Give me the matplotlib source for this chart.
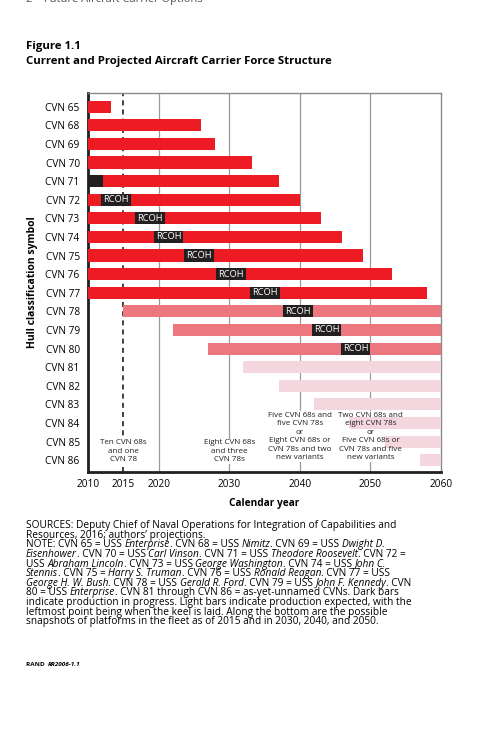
import numpy as np
import matplotlib
matplotlib.use("Agg")
import matplotlib.pyplot as plt

plt.rcParams['font.family'] = ['Open Sans', 'DejaVu Sans']

# Dati
hulls = ["CVN 65", "CVN 68", "CVN 69", "CVN 70", "CVN 71", "CVN 72", "CVN 73",
         "CVN 74", "CVN 75", "CVN 76", "CVN 77", "CVN 78", "CVN 79", "CVN 80",
         "CVN 81", "CVN 82", "CVN 83", "CVN 84", "CVN 85", "CVN 86"]
bar_start = [2010, 2010, 2010, 2010, 2010, 2010, 2010, 2010, 2010, 2010, 2010,
             2015, 2022, 2027, 2032, 2037, 2042, 2047, 2052, 2057]
bar_end = [2013.3, 2026, 2028, 2033.2, 2037, 2040, 2043, 2046, 2049, 2053, 2058,
           2060, 2060, 2060, 2060, 2060, 2060, 2060, 2060, 2060]
# 0 = in servizio, 1 = in produzione (medio), 2 = previsto (chiaro)
bar_kind = [0]*11 + [1]*3 + [2]*6

# RCOH (blocchi scuri con testo)
rcoh_hull = ["CVN 72", "CVN 73", "CVN 74", "CVN 75", "CVN 76", "CVN 77", "CVN 78", "CVN 79", "CVN 80"]
rcoh_start = [2011.9, 2016.7, 2019.3, 2023.6, 2028.2, 2033.0, 2037.6, 2041.7, 2045.8]
rcoh_len = 4.2
# CVN 71: barra scura senza testo
dark_hull = "CVN 71"
dark_start, dark_end = 2010, 2012.1

xticks = [2010, 2015, 2020, 2030, 2040, 2050, 2060]
grid_years = [2020, 2030, 2040, 2050]

snap_years = [2015, 2030, 2040, 2050]
snap_text = ["Ten CVN 68s\nand one\nCVN 78",
             "Eight CVN 68s\nand three\nCVN 78s",
             "Five CVN 68s and\nfive CVN 78s\nor\nEight CVN 68s or\nCVN 78s and two\nnew variants",
             "Two CVN 68s and\neight CVN 78s\nor\nFive CVN 68s or\nCVN 78s and five\nnew variants"]

note_lines = [
    "SOURCES: Deputy Chief of Naval Operations for Integration of Capabilities and",
    "Resources, 2016; authors\u2019 projections.",
    "NOTE: CVN 65 = USS _Enterprise_. CVN 68 = USS _Nimitz_. CVN 69 = USS _Dwight D._",
    "_Eisenhower_. CVN 70 = USS _Carl Vinson_. CVN 71 = USS _Theodore Roosevelt_. CVN 72 =",
    "USS _Abraham Lincoln_. CVN 73 = USS _George Washington_. CVN 74 = USS _John C._",
    "_Stennis_. CVN 75 = _Harry S. Truman_. CVN 76 = USS _Ronald Reagan_. CVN 77 = USS",
    "_George H. W. Bush_. CVN 78 = USS _Gerald R. Ford_. CVN 79 = USS _John F. Kennedy_. CVN",
    "80 = USS _Enterprise_. CVN 81 through CVN 86 = as-yet-unnamed CVNs. Dark bars",
    "indicate production in progress. Light bars indicate production expected, with the",
    "leftmost point being when the keel is laid. Along the bottom are the possible",
    "snapshots of platforms in the fleet as of 2015 and in 2030, 2040, and 2050.",
]

colors = ["#ED1C24", "#EC777E", "#F3D6DE"]
dark = "#231F20"

W, H = 489, 737
fig = plt.figure(figsize=(W/100, H/100), dpi=100)

def fx(x):
    return x / W

def fy(y):
    return 1 - y / H

ax = fig.add_axes([fx(88), fy(471.7), fx(441 - 88), (471.7 - 93.5) / H])

ypos = np.arange(len(hulls))
bh = 0.65
ax.barh(ypos, np.array(bar_end) - np.array(bar_start), left=bar_start, height=bh,
        color=[colors[k] for k in bar_kind], zorder=3)

# barra scura CVN 71
ax.barh(hulls.index(dark_hull), dark_end - dark_start, left=dark_start, height=bh,
        color=dark, zorder=4)

# RCOH
for h, s in zip(rcoh_hull, rcoh_start):
    i = hulls.index(h)
    ax.barh(i, rcoh_len, left=s, height=bh, color=dark, zorder=4)
    ax.text(s + rcoh_len/2, i, "RCOH", color="white", fontsize=6.7,
            ha="center", va="center", zorder=5)

# griglia e linea tratteggiata 2015
for g in grid_years:
    ax.axvline(g, color="#9A9A9A", lw=0.9, zorder=1)
ax.axvline(2015, color="#231F20", lw=1.2, ls=(0, (3, 2.5)), zorder=1)

# testi in basso
for yr, t in zip(snap_years, snap_text):
    nl = t.count("\n") + 1
    yc = 18.53 if nl == 3 else 17.74
    ax.text(yr, yc, t, fontsize=5.8, ha="center", va="center", linespacing=1.3,
            color="white", zorder=2,
            bbox=dict(facecolor="white", edgecolor="none", pad=0.5))
    ax.text(yr, yc, t, fontsize=5.8, ha="center", va="center", linespacing=1.3,
            color="#231F20", zorder=6)

ax.set_xlim(2010, 2060)
ax.set_ylim(19.62, -0.71)
ax.set_yticks(ypos)
ax.set_yticklabels(hulls, fontsize=7.3)
ax.set_xticks(xticks)
ax.set_xticklabels([str(x) for x in xticks], fontsize=7.3)
ax.tick_params(length=0, pad=5)
ax.tick_params(axis="y", pad=6)

for s in ["left", "bottom"]:
    ax.spines[s].set_color("#231F20")
    ax.spines[s].set_linewidth(2)
for s in ["top", "right"]:
    ax.spines[s].set_color("#8A8A8A")
    ax.spines[s].set_linewidth(1)

ax.set_ylabel("Hull classification symbol", fontsize=7.5, fontweight="bold", labelpad=5)
ax.set_xlabel("Calendar year", fontsize=7.3, fontweight="bold", labelpad=6)

# intestazione
fig.text(fx(26), fy(2), "2    Future Aircraft Carrier Options", fontsize=8,
         color="#555555", va="baseline")
fig.text(fx(26), fy(47), "Figure 1.1", fontsize=8.2, fontweight="bold", va="center")
fig.text(fx(26), fy(61.7), "Current and Projected Aircraft Carrier Force Structure",
         fontsize=8.2, fontweight="bold", va="center")

# note con parti in corsivo
renderer = fig.canvas.get_renderer()
fs_note = 7.25

def ink_w(s, style):
    t = fig.text(0, 0, s, fontsize=fs_note, style=style)
    w = t.get_window_extent(renderer).width
    t.remove()
    return w

def adv_w(s, style):
    # avanzamento della penna: X+s+X meno XX
    return ink_w("X" + s + "X", style) - ink_w("XX", style)

y0 = 525.7
for k, line in enumerate(note_lines):
    x = 26
    parts = line.split("_")
    for j, p in enumerate(parts):
        if p == "":
            continue
        st = "italic" if j % 2 == 1 else "normal"
        fig.text(fx(x), fy(y0 + k * 9.6), p, fontsize=fs_note, style=st, va="center")
        x += adv_w(p, st)

t1 = fig.text(fx(26), fy(664), "RAND ", fontsize=4.6, fontweight="bold", va="center")
w1 = t1.get_window_extent(renderer).width
fig.text(fx(26 + w1 + 1.5), fy(664), "RR2006-1.1", fontsize=4.6, fontweight="bold",
         style="italic", va="center")

fig.savefig("out.png", dpi=100)
